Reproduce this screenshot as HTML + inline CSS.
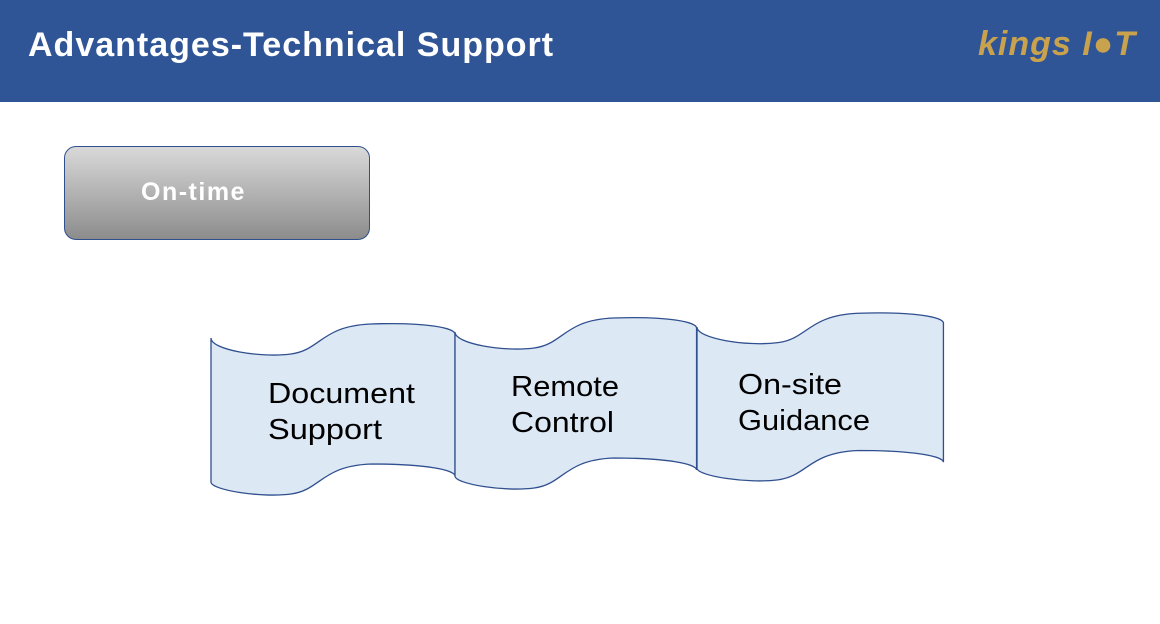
<!DOCTYPE html>
<html><head><meta charset="utf-8"><style>
body{margin:0;width:1160px;height:624px;background:#fff;position:relative;overflow:hidden;font-family:"Liberation Sans",sans-serif}
.hdr{position:absolute;left:0;top:0;width:1160px;height:102px;background:#2f5597}
.title{position:absolute;left:28px;top:26px;color:#fff;font-weight:bold;font-size:34px;letter-spacing:1px}
.logo{position:absolute;left:978px;top:25px;font-size:34px;font-weight:bold;font-style:italic;color:#c9a24e;letter-spacing:1px}
.box{position:absolute;left:64px;top:146px;width:306px;height:94px;border:1px solid #2f4f8f;border-radius:12px;background:linear-gradient(#d9d9d9,#8c8c8c);box-sizing:border-box}
.box span{position:absolute;left:76px;top:31px;color:#fff;font-weight:bold;font-size:25px;letter-spacing:1.5px}
</style></head><body>
<div class="hdr"></div>
<div class="title">Advantages-Technical Support</div>
<div class="logo">kings I<span style="font-style:normal">●</span>T</div>
<div class="box"><span>On-time</span></div>
<svg width="1160" height="624" style="position:absolute;left:0;top:0">
<defs>
<path id="w" d="M0,0 C0,12 50,20 80,16 C110,12 110,-12 160,-14 C215,-16 244,-10 244,-4 L244,138 C244,132 215,126 160,126 C110,128 110,152 80,156 C50,160 0,152 0,144 Z" fill="#dde8f5" stroke="#2f4f8f" stroke-width="1.3"/>
</defs>
<use href="#w" transform="translate(211,338)"/>
<use href="#w" transform="translate(455,332) scale(0.99,1)"/>
<use href="#w" transform="translate(697,327) scale(1.01,0.98)"/>
<g font-family="Liberation Sans, sans-serif" font-size="29" fill="#000">
<text x="268" y="403" textLength="147" lengthAdjust="spacingAndGlyphs">Document</text><text x="268" y="439" textLength="114" lengthAdjust="spacingAndGlyphs">Support</text>
<text x="511" y="396" textLength="108" lengthAdjust="spacingAndGlyphs">Remote</text><text x="511" y="432" textLength="103" lengthAdjust="spacingAndGlyphs">Control</text>
<text x="738" y="394" textLength="104" lengthAdjust="spacingAndGlyphs">On-site</text><text x="738" y="430" textLength="132" lengthAdjust="spacingAndGlyphs">Guidance</text>
</g>
</svg>
</body></html>
